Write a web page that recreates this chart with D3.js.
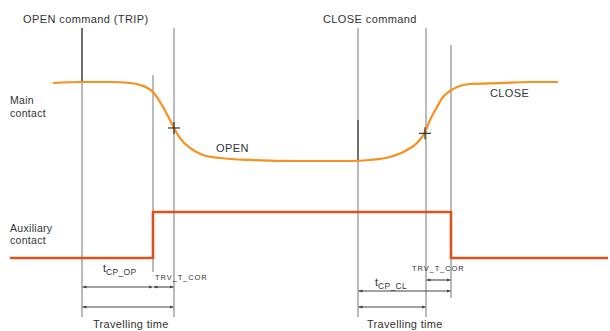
<!DOCTYPE html>
<html><head><meta charset="utf-8">
<script src="https://cdn.jsdelivr.net/npm/d3@7"></script>
<style>
html,body{margin:0;padding:0;background:#fff;}
svg{display:block;}
text{font-family:"Liberation Sans",Arial,sans-serif;fill:#333;}
</style></head>
<body>
<svg id="c" width="610" height="331"></svg>
<script>
// time in ms (arbitrary diagram units)
const mainCurve = [
  [8.6,.987],[14.4,1],[20,1],[24,.987],[26,.962],[28.6,.873],[30.6,.684],[32,.519],
  [32.8,.418],[34,.291],[36,.165],[38.6,.076],[42,.038],[48,.013],[58,0],[68,0],
  [72,.013],[76,.051],[79.4,.139],[81.4,.228],[82.8,.342],[84,.519],[85.4,.684],
  [86.6,.81],[88,.886],[89.4,.937],[92,.975],[98,.987],[104,1],[109.6,1]
];
const auxSteps = [[0,0],[28.6,1],[88.2,0],[119.6,0]];
const events = {openCmd:14.4, auxOpen:28.6, openTrv:32.8, closeCmd:69.6, closeTrv:83.2, auxClose:88.2};
const crossMarks = [[32.8,.418],[83.0,.35]];
const labels = ["OPEN command (TRIP)","CLOSE command","Main","contact","Auxiliary","contact","OPEN","CLOSE","Travelling time","TRV_T_COR"];

const svg = d3.select("#c");
const x = d3.scaleLinear().domain([0,120]).range([10,610]);
const yMain = d3.scaleLinear().domain([0,1]).range([161,82]);
const yAux = d3.scaleLinear().domain([0,1]).range([258,212]);

// vertical event lines
const vlines = [
  {t:events.openCmd, y1:28, y2:317},
  {t:events.auxOpen, y1:75, y2:272},
  {t:events.openTrv, y1:28, y2:317},
  {t:events.closeCmd, y1:28, y2:317},
  {t:events.closeTrv, y1:28, y2:317},
  {t:events.auxClose, y1:45, y2:298}
];
svg.selectAll("line.v").data(vlines).join("line")
  .attr("x1",d=>x(d.t)).attr("x2",d=>x(d.t)).attr("y1",d=>d.y1).attr("y2",d=>d.y2)
  .attr("stroke","#8c8c8c").attr("stroke-width",1.2);
// darker parts
svg.append("line").attr("x1",x(events.openCmd)).attr("x2",x(events.openCmd)).attr("y1",28).attr("y2",83)
  .attr("stroke","#333").attr("stroke-width",1.1);
svg.append("line").attr("x1",x(events.closeCmd)).attr("x2",x(events.closeCmd)).attr("y1",120).attr("y2",161)
  .attr("stroke","#333").attr("stroke-width",1.1);

// main contact curve
svg.append("path").datum(mainCurve)
  .attr("d", d3.line().x(d=>x(d[0])).y(d=>yMain(d[1])).curve(d3.curveMonotoneX))
  .attr("fill","none").attr("stroke","#f7901e").attr("stroke-width",2.2);

// aux contact
svg.append("path").datum(auxSteps)
  .attr("d", d3.line().x(d=>x(d[0])).y(d=>yAux(d[1])).curve(d3.curveStepAfter))
  .attr("fill","none").attr("stroke","#d9531e").attr("stroke-width",2.6);

// cross marks
crossMarks.forEach(([t,v])=>{
  const cx=x(t), cy=yMain(v);
  svg.append("line").attr("x1",cx-6).attr("x2",cx+6).attr("y1",cy).attr("y2",cy).attr("stroke","#333").attr("stroke-width",1.2);
  svg.append("line").attr("x1",cx).attr("x2",cx).attr("y1",cy-6).attr("y2",cy+6).attr("stroke","#333").attr("stroke-width",1.2);
});

// dimension lines
const defs = svg.append("defs");
defs.append("marker").attr("id","ah").attr("viewBox","0 0 10 10").attr("refX",10).attr("refY",5)
  .attr("markerWidth",4).attr("markerHeight",4).attr("orient","auto-start-reverse").attr("markerUnits","userSpaceOnUse")
  .append("path").attr("d","M0,1 L10,5 L0,9 Z").attr("fill","#444");
const dims = [
  {a:events.openCmd, b:events.auxOpen, y:287},
  {a:events.auxOpen, b:events.openTrv, y:287},
  {a:events.openCmd, b:events.openTrv, y:307},
  {a:events.closeTrv, b:events.auxClose, y:280},
  {a:events.closeCmd, b:events.auxClose, y:291},
  {a:events.closeCmd, b:events.closeTrv, y:307}
];
svg.selectAll("line.d").data(dims).join("line")
  .attr("x1",d=>x(d.a)+0.5).attr("x2",d=>x(d.b)-0.5).attr("y1",d=>d.y).attr("y2",d=>d.y)
  .attr("stroke","#444").attr("stroke-width",1.1)
  .attr("marker-start","url(#ah)").attr("marker-end","url(#ah)");

// texts
function txt(s,px,py,size,ls){
  return svg.append("text").attr("x",px).attr("y",py).attr("font-size",size).attr("letter-spacing",ls).text(s);
}
txt(labels[0],23,23,11,0.4);
txt(labels[1],323,23,11,0.4);
txt(labels[2],10,104,10.5,0.3);
txt(labels[3],10,117,10.5,0.3);
txt(labels[4],10,232,10.5,0.3);
txt(labels[5],10,244,10.5,0.3);
txt(labels[6],216,152,11,0.4);
txt(labels[7],490,97,11,0.4);
txt(labels[8],93,328,11,0.3);
txt(labels[8],367,328,11,0.3);
txt(labels[9],155,280,7.5,0.9);
txt(labels[9],412,271,7.5,0.9);

function sub(px,py,s){
  const t = svg.append("text").attr("x",px).attr("y",py).attr("font-size",11);
  t.append("tspan").text("t");
  t.append("tspan").attr("font-size",8.5).attr("dy",3).attr("letter-spacing",0.3).text(s);
}
sub(103,272,"CP_OP");
sub(375,286,"CP_CL");
</script>
</body></html>
